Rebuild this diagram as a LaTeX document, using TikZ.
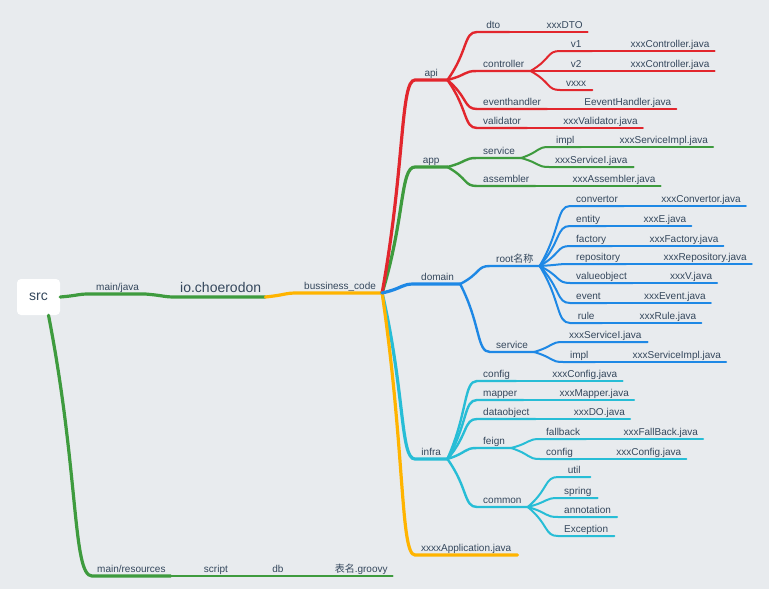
\documentclass[tikz,border=0pt]{standalone}
\usepackage{fontspec}
\setmainfont{Liberation Sans}
\newfontfamily\cjk{Noto Sans CJK SC}
\usepackage{tikz}
\usetikzlibrary{positioning, calc}

\definecolor{bg}{HTML}{E8EBEE}
\definecolor{txt}{HTML}{34475C}
\definecolor{mred}{HTML}{E2262D}
\definecolor{mgreen}{HTML}{3E9B3E}
\definecolor{mblue}{HTML}{1E88E5}
\definecolor{mcyan}{HTML}{27BDD6}
\definecolor{myellow}{HTML}{FFB400}

\tikzset{
  item/.style={anchor=south west, inner xsep=6pt, inner ysep=1pt, text height=7.5pt, text depth=2pt, minimum width=32pt, text=txt, font=\fontsize{10}{12}\selectfont},
  leaf/.style={item, inner xsep=5pt, minimum width=0pt},
  rootbox/.style={fill=white, rounded corners=4pt, minimum width=43pt, minimum height=36pt, inner sep=0pt, text=txt, font=\fontsize{14}{16}\selectfont},
  branch/.style={to path={let \p1=(\tikztostart), \p2=(\tikztotarget) in .. controls ({\x1+0.7*(\x2-\x1)},{\y1+0.6*(\y2-\y1)}) and ({\x2-0.45*(\x2-\x1)},\y2) .. (\tikztotarget)}},
  l1/.style={line width=3.2pt, line cap=round},
  l2/.style={line width=2.4pt, line cap=round},
  l3/.style={line width=2pt, line cap=round},
  l4/.style={line width=1.7pt, line cap=round},
}

\begin{document}
\begin{tikzpicture}[x=1pt, y=-1pt]
            \fill[bg] (0,0) rectangle (769,589);
            \useasboundingbox (0,0) rectangle (769,589);

            \node[rootbox] (src) at (38.5,297) {src};
            \node[item] (mainjava) at (90,294) {main/java};
            \node[item, inner xsep=4pt, text height=10pt, text depth=3pt, font=\fontsize{14}{16}\selectfont] (io) at (176,297) {io.choerodon};
            \node[item] (code) at (298,293) {bussiness\_code};
            \node[item, inner xsep=5pt] (res) at (92,576) {main/resources};
            \node[leaf] (script) [right=28pt of res] {script};
            \node[leaf] (db) [right=34pt of script] {db};
            \node[leaf] (groovy) [right=41pt of db] {{\cjk 表名}.groovy};

            \node[item] (api) at (415,80) {api};
            \node[item] (app) at (415,167) {app};
            \node[item] (domain) at (415,284) {domain};
            \node[item] (infra) at (415,459) {infra};
            \node[item] (appjava) at (415,555) {xxxxApplication.java};

            \node[item] (dto) at (477,32) {dto};
            \node[item] (ctrl) at (477,71) {controller};
            \node[item] (evh) at (477,109) {eventhandler};
            \node[item] (valid) at (477,128) {validator};
            \node[item] (v1) at (560,51) {v1};
            \node[item] (v2) at (560,71) {v2};
            \node[item] (vx) at (560,90) {vxxx};
            \node[leaf] (dtoF) [right=32pt of dto] {xxxDTO};
            \node[leaf] (v1F) [right=33pt of v1] {xxxController.java};
            \node[leaf] (v2F) [right=33pt of v2] {xxxController.java};
            \node[leaf] (evhF) [right=32pt of evh] {EeventHandler.java};
            \node[leaf] (validF) [right=31pt of valid] {xxxValidator.java};

            \node[item] (svc) at (477,158) {service};
            \node[item] (asm) at (477,186) {assembler};
            \node[item] (impl) at (549,147) {impl};
            \node[item] (svcI) at (549,167) {xxxServiceI.java};
            \node[leaf] (implF) [right=33pt of impl] {xxxServiceImpl.java};
            \node[leaf] (asmF) [right=32pt of asm] {xxxAssembler.java};

            \node[item] (root) at (490,266) {root{\cjk 名称}};
            \node[item] (dsvc) at (490,352) {service};
            \node[item] (conv) at (570,206) {convertor};
            \node[item] (ent) at (570,226) {entity};
            \node[item] (fac) at (570,246) {factory};
            \node[item] (repo) at (570,264) {repository};
            \node[item] (vo) at (570,283) {valueobject};
            \node[item] (evt) at (570,303) {event};
            \node[item] (rule) at (570,323) {rule};
            \node[leaf] (convF) [right=32pt of conv] {xxxConvertor.java};
            \node[leaf] (entF) [right=32pt of ent] {xxxE.java};
            \node[leaf] (facF) [right=32pt of fac] {xxxFactory.java};
            \node[leaf] (repoF) [right=32pt of repo] {xxxRepository.java};
            \node[leaf] (voF) [right=32pt of vo] {xxxV.java};
            \node[leaf] (evtF) [right=32pt of evt] {xxxEvent.java};
            \node[leaf] (ruleF) [right=32pt of rule] {xxxRule.java};
            \node[item] (dsvcI) at (563,342) {xxxServiceI.java};
            \node[item] (dimpl) at (563,362) {impl};
            \node[leaf] (dimplF) [right=32pt of dimpl] {xxxServiceImpl.java};

            \node[item] (cfg) at (477,381) {config};
            \node[item] (map) at (477,400) {mapper};
            \node[item] (dobj) at (477,419) {dataobject};
            \node[item] (feign) at (477,448) {feign};
            \node[item] (common) at (477,507) {common};
            \node[item] (fb) at (540,439) {fallback};
            \node[item] (fcfg) at (540,459) {config};
            \node[item] (util) at (558,477) {util};
            \node[item] (spring) at (558,498) {spring};
            \node[item] (anno) at (558,517) {annotation};
            \node[item] (exc) at (558,536) {Exception};
            \node[leaf] (cfgF) [right=31pt of cfg] {xxxConfig.java};
            \node[leaf] (mapF) [right=31pt of map] {xxxMapper.java};
            \node[leaf] (dobjF) [right=33pt of dobj] {xxxDO.java};
            \node[leaf] (fbF) [right=32pt of fb] {xxxFallBack.java};
            \node[leaf] (fcfgF) [right=32pt of fcfg] {xxxConfig.java};

            \draw[mgreen, l1] (src.east) to[branch] (mainjava.south west) -- (mainjava.south east) to[branch] (io.south west) -- (io.south east);
            \draw[myellow, l1] (io.south east) to[branch] (code.south west) -- (code.south east);
            \draw[mgreen, l1] ([xshift=10pt]src.south) to[branch] (res.south west) -- (res.south east);
            \draw[mgreen, l2] (res.south east) -- (script.south east);
            \draw[mgreen, l3] (script.south east) -- (db.south east);
            \draw[mgreen, l4] (db.south east) -- (groovy.south east);

            \draw[mgreen, l1] (code.south east) to[branch] (app.south west) -- (app.south east);
            \draw[mred, l1] (code.south east) to[branch] (api.south west) -- (api.south east);
            \draw[mcyan, l1] (code.south east) to[branch] (infra.south west) -- (infra.south east);
            \draw[myellow, l1] (code.south east) to[branch] (appjava.south west) -- (appjava.south east);
            \draw[mblue, l1] (code.south east) to[branch] (domain.south west) -- (domain.south east);

            \draw[mred, l2] (api.south east) to[branch] (dto.south west) -- (dto.south east);
            \draw[mred, l2] (api.south east) to[branch] (ctrl.south west) -- (ctrl.south east);
            \draw[mred, l2] (api.south east) to[branch] (evh.south west) -- (evh.south east);
            \draw[mred, l2] (api.south east) to[branch] (valid.south west) -- (valid.south east);
            \draw[mred, l3] (ctrl.south east) to[branch] (v1.south west) -- (v1.south east);
            \draw[mred, l3] (ctrl.south east) to[branch] (v2.south west) -- (v2.south east);
            \draw[mred, l3] (ctrl.south east) to[branch] (vx.south west) -- (vx.south east);
            \draw[mred, l3] (dto.south east) -- (dtoF.south east);
            \draw[mred, l4] (v1.south east) -- (v1F.south east);
            \draw[mred, l4] (v2.south east) -- (v2F.south east);
            \draw[mred, l3] (evh.south east) -- (evhF.south east);
            \draw[mred, l3] (valid.south east) -- (validF.south east);

            \draw[mgreen, l2] (app.south east) to[branch] (svc.south west) -- (svc.south east);
            \draw[mgreen, l2] (app.south east) to[branch] (asm.south west) -- (asm.south east);
            \draw[mgreen, l3] (svc.south east) to[branch] (impl.south west) -- (impl.south east);
            \draw[mgreen, l3] (svc.south east) to[branch] (svcI.south west) -- (svcI.south east);
            \draw[mgreen, l4] (impl.south east) -- (implF.south east);
            \draw[mgreen, l3] (asm.south east) -- (asmF.south east);

            \draw[mblue, l2] (domain.south east) to[branch] (root.south west) -- (root.south east);
            \draw[mblue, l2] (domain.south east) to[branch] (dsvc.south west) -- (dsvc.south east);
            \draw[mblue, l3] (root.south east) to[branch] (conv.south west) -- (conv.south east);
            \draw[mblue, l3] (root.south east) to[branch] (ent.south west) -- (ent.south east);
            \draw[mblue, l3] (root.south east) to[branch] (fac.south west) -- (fac.south east);
            \draw[mblue, l3] (root.south east) to[branch] (repo.south west) -- (repo.south east);
            \draw[mblue, l3] (root.south east) to[branch] (vo.south west) -- (vo.south east);
            \draw[mblue, l3] (root.south east) to[branch] (evt.south west) -- (evt.south east);
            \draw[mblue, l3] (root.south east) to[branch] (rule.south west) -- (rule.south east);
            \draw[mblue, l4] (conv.south east) -- (convF.south east);
            \draw[mblue, l4] (ent.south east) -- (entF.south east);
            \draw[mblue, l4] (fac.south east) -- (facF.south east);
            \draw[mblue, l4] (repo.south east) -- (repoF.south east);
            \draw[mblue, l4] (vo.south east) -- (voF.south east);
            \draw[mblue, l4] (evt.south east) -- (evtF.south east);
            \draw[mblue, l4] (rule.south east) -- (ruleF.south east);
            \draw[mblue, l3] (dsvc.south east) to[branch] (dsvcI.south west) -- (dsvcI.south east);
            \draw[mblue, l3] (dsvc.south east) to[branch] (dimpl.south west) -- (dimpl.south east);
            \draw[mblue, l4] (dimpl.south east) -- (dimplF.south east);

            \draw[mcyan, l2] (infra.south east) to[branch] (cfg.south west) -- (cfg.south east);
            \draw[mcyan, l2] (infra.south east) to[branch] (map.south west) -- (map.south east);
            \draw[mcyan, l2] (infra.south east) to[branch] (dobj.south west) -- (dobj.south east);
            \draw[mcyan, l2] (infra.south east) to[branch] (feign.south west) -- (feign.south east);
            \draw[mcyan, l2] (infra.south east) to[branch] (common.south west) -- (common.south east);
            \draw[mcyan, l3] (cfg.south east) -- (cfgF.south east);
            \draw[mcyan, l3] (map.south east) -- (mapF.south east);
            \draw[mcyan, l3] (dobj.south east) -- (dobjF.south east);
            \draw[mcyan, l3] (feign.south east) to[branch] (fb.south west) -- (fb.south east);
            \draw[mcyan, l3] (feign.south east) to[branch] (fcfg.south west) -- (fcfg.south east);
            \draw[mcyan, l4] (fb.south east) -- (fbF.south east);
            \draw[mcyan, l4] (fcfg.south east) -- (fcfgF.south east);
            \draw[mcyan, l3] (common.south east) to[branch] (util.south west) -- (util.south east);
            \draw[mcyan, l3] (common.south east) to[branch] (spring.south west) -- (spring.south east);
            \draw[mcyan, l3] (common.south east) to[branch] (anno.south west) -- (anno.south east);
            \draw[mcyan, l3] (common.south east) to[branch] (exc.south west) -- (exc.south east);
        \end{tikzpicture}
\end{document}
